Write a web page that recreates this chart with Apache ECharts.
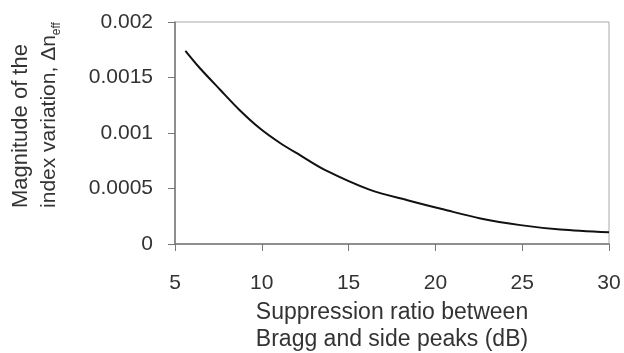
<!DOCTYPE html>
<html>
<head>
<meta charset="utf-8">
<script src="https://cdn.jsdelivr.net/npm/echarts@6/dist/echarts.min.js"></script>
<style>
  html, body { margin: 0; padding: 0; background: #fff; }
  #chart { width: 624px; height: 353px; }
</style>
</head>
<body>
<div id="chart"></div>
<script>
// suppression ratio (dB) vs index modulation amplitude
var ratioDb = [5.6, 6.4, 7.6, 8.7, 9.9, 11.05, 12.2, 13.6, 16.2, 18.5, 20.5, 22.6, 24.9, 27.2, 30];
var deltaN = [0.00174, 0.00159, 0.00139, 0.00121, 0.00104, 0.00091, 0.0008, 0.00067, 0.00049, 0.00039, 0.00031, 0.00023, 0.00017, 0.00013, 0.000105];
var xTicks = [5, 10, 15, 20, 25, 30];
var yTicks = [0, 0.0005, 0.001, 0.0015, 0.002];

var pts = [];
for (var i = 0; i < ratioDb.length; i++) {
    pts.push([ratioDb[i], deltaN[i]]);
}

var font = 'Liberation Sans';
var txt = '#333';

var option = {
    animation: false,
    backgroundColor: '#fff',
    grid: {
        left: 175, right: 15, top: 22, bottom: 109,
        outerBoundsMode: 'none',
        containLabel: false,
        show: true, borderColor: '#aaa', borderWidth: 1
    },
    xAxis: {
        type: 'value',
        min: xTicks[0],
        max: xTicks[xTicks.length - 1],
        interval: 5,
        name: 'Suppression ratio between\nBragg and side peaks (dB)',
        nameLocation: 'middle',
        nameGap: 53,
        nameTextStyle: { fontFamily: font, fontSize: 23, color: txt, lineHeight: 27 },
        axisLine: { lineStyle: { color: '#777', width: 1.5 } },
        axisTick: { show: true, inside: false, length: 7, lineStyle: { color: '#777' } },
        axisLabel: { fontFamily: font, fontSize: 21, color: txt, margin: 29 },
        splitLine: { show: false }
    },
    yAxis: {
        type: 'value',
        min: yTicks[0],
        max: yTicks[yTicks.length - 1],
        interval: 0.0005,
        name: '{l1|Magnitude of the}\n{l2|index variation, Δn}{sub|eff}',
        nameLocation: 'middle',
        nameRotate: 90,
        nameGap: 112,
        nameTextStyle: {
            fontFamily: font, fontSize: 22, color: txt, lineHeight: 28,
            padding: [0, 0, 0, 36],
            rich: {
                l1: { fontFamily: font, fontSize: 22, color: txt, lineHeight: 28, align: 'left' },
                l2: { fontFamily: font, fontSize: 21, color: txt, lineHeight: 28 },
                sub: { fontFamily: font, fontSize: 12, color: txt, lineHeight: 28, verticalAlign: 'bottom' }
            }
        },
        axisLine: { show: true, lineStyle: { color: '#777', width: 1.5 } },
        axisTick: { show: true, inside: false, length: 7, lineStyle: { color: '#777' } },
        axisLabel: { fontFamily: font, fontSize: 21, color: txt, margin: 22 },
        splitLine: { show: false }
    },
    series: [{
        type: 'line',
        data: pts,
        smooth: 0.3,
        showSymbol: false,
        lineStyle: { color: '#111', width: 2 }
    }]
};

var myChart = echarts.init(document.getElementById('chart'));
myChart.setOption(option);
</script>
</body>
</html>
